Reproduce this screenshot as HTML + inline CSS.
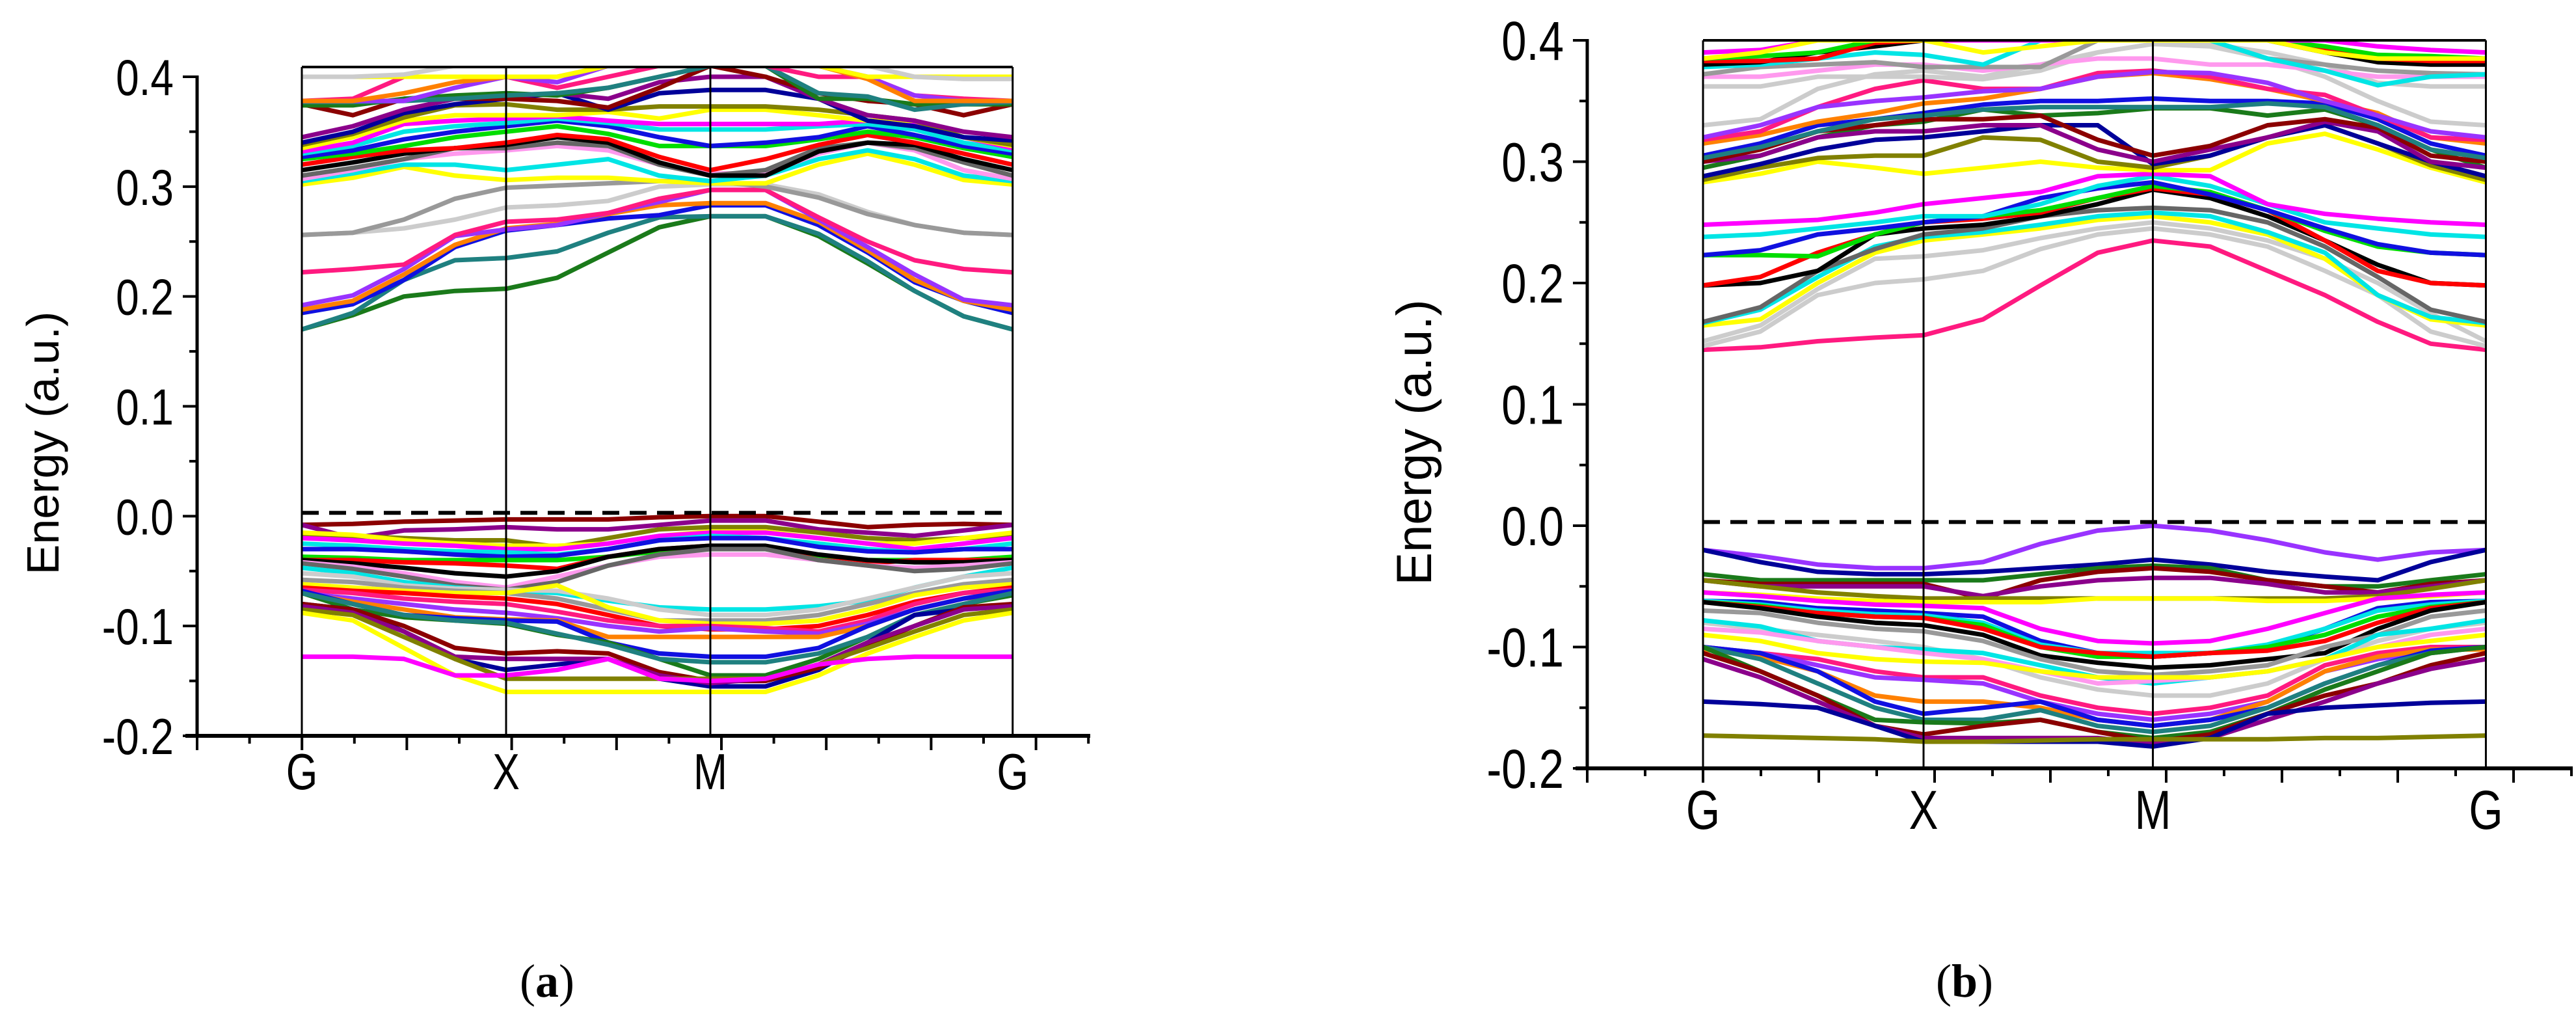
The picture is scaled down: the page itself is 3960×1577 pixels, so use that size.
<!DOCTYPE html>
<html><head><meta charset="utf-8"><style>
html,body{margin:0;padding:0;background:#fff;}
svg{display:block;}
text{font-family:"Liberation Sans",sans-serif;fill:#000;}
</style></head><body>
<svg id="fig" width="3960" height="1577" viewBox="0 0 3960 1577" xmlns="http://www.w3.org/2000/svg">
<defs>
<clipPath id="clipA"><rect x="464" y="103" width="1092" height="1028"/></clipPath>
<clipPath id="clipB"><rect x="2618" y="62" width="1203" height="1119"/></clipPath>
</defs>
<g id="panelA"></g>
<g id="panelB"></g>
<text x="841" y="1532" text-anchor="middle" style="font-family:'Liberation Serif',serif;font-size:72px">(<tspan font-weight="bold">a</tspan>)</text>
<text x="3020" y="1532" text-anchor="middle" style="font-family:'Liberation Serif',serif;font-size:72px">(<tspan font-weight="bold">b</tspan>)</text>
</svg>
<script>
const NS="http://www.w3.org/2000/svg";
const kLabels=["G","X","M","G"];
const yTickLabels=["-0.2","-0.1","0.0","0.1","0.2","0.3","0.4"];
const yTickValues=[-0.2,-0.1,0,0.1,0.2,0.3,0.4];
const fermiA=0.003, fermiB=0.003;
const kA=[0,.25,.5,.75,1,1.25,1.5,1.75,2,2.27,2.53,2.77,3.0,3.24,3.48];
const kB=[0,.26,.52,.78,1,1.27,1.53,1.79,2.04,2.3,2.56,2.82,3.06,3.3,3.55];
const symKA=[0,1,2,3.48];
const symKB=[0,1,2.04,3.55];
const C={dg:"#1a7a1a",teal:"#1f8080",blue:"#1010e0",orange:"#ff8000",violet:"#9933ff",pink:"#ff1a80",lgray:"#cccccc",gray:"#999999",yellow:"#ffff00",cyan:"#00e5e5",plum:"#ff99ee",dgray:"#666666",black:"#000000",red:"#ff0000",green:"#00dd00",mag:"#ff00ff",olive:"#808000",navy:"#000099",purple:"#8b008b",dred:"#8b0000"};
const colorsA=["dg","teal","blue","orange","violet","pink","lgray","gray","yellow","cyan","plum","dgray","black","red","green","blue","cyan","mag","yellow","olive","navy","purple","dred","dg","teal","pink","violet","orange","yellow","lgray",
"dred","purple","olive","yellow","mag","cyan","blue","green","red","black","plum","dgray","cyan","lgray","gray","yellow","red","pink","violet","orange","blue","dg","teal","navy","dred","purple","olive","yellow","mag"];
const bandsA=[
[.17,.183,.2,.205,.207,.217,.24,.263,.273,.273,.255,.23,.205,.182,.17],
[.17,.185,.215,.233,.235,.241,.258,.272,.273,.273,.257,.232,.205,.182,.17],
[.185,.193,.215,.245,.26,.265,.271,.274,.283,.283,.265,.24,.213,.196,.185],
[.188,.196,.22,.247,.262,.266,.275,.283,.285,.285,.268,.242,.215,.196,.188],
[.192,.201,.225,.255,.261,.265,.276,.286,.297,.297,.27,.245,.22,.197,.192],
[.222,.225,.229,.256,.268,.27,.276,.289,.297,.297,.272,.25,.233,.225,.222],
[.256,.258,.262,.27,.281,.283,.287,.3,.302,.302,.293,.277,.265,.258,.256],
[.256,.258,.27,.289,.299,.301,.303,.305,.305,.3,.29,.275,.265,.258,.256],
[.302,.308,.318,.31,.306,.308,.308,.305,.303,.303,.32,.33,.32,.306,.302],
[.305,.312,.32,.32,.315,.32,.325,.31,.305,.31,.325,.333,.325,.31,.305],
[.307,.315,.325,.33,.333,.337,.333,.32,.312,.312,.33,.34,.333,.315,.307],
[.31,.317,.325,.335,.335,.34,.337,.32,.31,.315,.335,.34,.335,.322,.31],
[.315,.322,.33,.335,.338,.345,.34,.322,.31,.31,.332,.34,.338,.325,.315],
[.32,.327,.333,.335,.34,.347,.343,.327,.315,.325,.338,.347,.34,.33,.32],
[.325,.33,.337,.345,.35,.355,.348,.337,.337,.337,.343,.35,.345,.335,.327],
[.327,.333,.343,.35,.355,.36,.355,.345,.337,.34,.345,.355,.347,.337,.33],
[.33,.337,.35,.355,.358,.362,.358,.352,.352,.352,.355,.357,.352,.34,.333],
[.332,.34,.357,.36,.362,.364,.36,.357,.357,.357,.357,.36,.357,.345,.335],
[.335,.345,.36,.365,.365,.365,.368,.362,.37,.37,.365,.36,.36,.345,.337],
[.338,.348,.363,.374,.375,.37,.37,.373,.373,.373,.37,.365,.36,.345,.338],
[.34,.35,.367,.375,.38,.385,.37,.385,.388,.388,.38,.36,.355,.345,.342],
[.345,.355,.37,.38,.382,.385,.38,.395,.4,.4,.38,.365,.36,.35,.345],
[.375,.365,.38,.38,.38,.378,.372,.39,.41,.4,.385,.378,.375,.365,.375],
[.374,.374,.38,.383,.385,.383,.39,.4,.41,.41,.38,.38,.375,.375,.375],
[.377,.377,.378,.38,.383,.385,.39,.4,.41,.41,.385,.382,.37,.375,.377],
[.378,.38,.4,.4,.4,.39,.4,.41,.41,.41,.4,.4,.383,.38,.378],
[.378,.378,.378,.39,.4,.395,.41,.41,.41,.41,.41,.4,.383,.378,.378],
[.378,.378,.385,.395,.4,.4,.41,.41,.41,.41,.41,.398,.378,.378,.378],
[.4,.4,.4,.4,.4,.4,.41,.41,.41,.41,.41,.4,.4,.4,.4],
[.4,.4,.402,.41,.41,.41,.41,.41,.41,.41,.41,.41,.4,.398,.398],
[-.008,-.007,-.005,-.004,-.003,-.003,-.003,-.001,0,0,-.005,-.01,-.008,-.007,-.008],
[-.008,-.02,-.013,-.012,-.01,-.012,-.012,-.008,-.004,-.004,-.012,-.015,-.018,-.013,-.008],
[-.018,-.018,-.02,-.022,-.022,-.028,-.02,-.012,-.01,-.01,-.015,-.02,-.022,-.02,-.018],
[-.015,-.017,-.022,-.025,-.027,-.027,-.025,-.018,-.014,-.014,-.02,-.025,-.025,-.02,-.015],
[-.02,-.022,-.025,-.027,-.03,-.03,-.025,-.018,-.015,-.015,-.02,-.025,-.03,-.025,-.02],
[-.025,-.027,-.03,-.032,-.033,-.035,-.03,-.022,-.018,-.02,-.025,-.03,-.033,-.03,-.025],
[-.03,-.03,-.032,-.035,-.037,-.036,-.03,-.022,-.02,-.02,-.028,-.032,-.033,-.03,-.03],
[-.037,-.038,-.04,-.04,-.04,-.04,-.037,-.032,-.03,-.03,-.038,-.04,-.04,-.04,-.037],
[-.04,-.04,-.042,-.043,-.045,-.048,-.037,-.03,-.027,-.028,-.04,-.043,-.04,-.04,-.04],
[-.04,-.043,-.047,-.052,-.055,-.05,-.037,-.03,-.027,-.027,-.035,-.04,-.042,-.042,-.04],
[-.042,-.046,-.052,-.06,-.065,-.055,-.045,-.037,-.035,-.035,-.04,-.045,-.047,-.045,-.042],
[-.043,-.048,-.055,-.063,-.067,-.06,-.045,-.035,-.03,-.03,-.04,-.045,-.05,-.048,-.043],
[-.047,-.052,-.06,-.065,-.068,-.07,-.077,-.083,-.085,-.085,-.082,-.077,-.065,-.055,-.047],
[-.052,-.055,-.063,-.066,-.067,-.068,-.075,-.085,-.09,-.09,-.085,-.075,-.065,-.055,-.052],
[-.058,-.06,-.065,-.068,-.07,-.075,-.085,-.095,-.095,-.095,-.09,-.08,-.07,-.062,-.058],
[-.062,-.065,-.068,-.07,-.07,-.063,-.083,-.095,-.098,-.098,-.095,-.085,-.072,-.065,-.062],
[-.065,-.068,-.07,-.073,-.075,-.08,-.09,-.1,-.103,-.103,-.1,-.09,-.078,-.07,-.065],
[-.067,-.07,-.075,-.078,-.08,-.087,-.095,-.1,-.1,-.102,-.105,-.095,-.08,-.07,-.067],
[-.07,-.075,-.08,-.085,-.088,-.093,-.1,-.105,-.102,-.105,-.107,-.098,-.085,-.075,-.07],
[-.07,-.078,-.085,-.092,-.094,-.095,-.11,-.11,-.11,-.11,-.11,-.1,-.085,-.075,-.07],
[-.068,-.08,-.09,-.093,-.095,-.096,-.115,-.125,-.128,-.128,-.12,-.1,-.085,-.075,-.068],
[-.07,-.085,-.092,-.095,-.098,-.108,-.115,-.13,-.145,-.145,-.13,-.11,-.09,-.08,-.072],
[-.07,-.08,-.09,-.095,-.097,-.107,-.117,-.13,-.133,-.133,-.125,-.11,-.09,-.08,-.07],
[-.08,-.085,-.105,-.13,-.14,-.135,-.13,-.148,-.155,-.155,-.14,-.115,-.09,-.085,-.08],
[-.08,-.085,-.1,-.12,-.125,-.123,-.125,-.142,-.15,-.15,-.138,-.118,-.1,-.083,-.08],
[-.082,-.088,-.105,-.128,-.13,-.13,-.13,-.145,-.152,-.148,-.135,-.115,-.1,-.085,-.082],
[-.085,-.09,-.11,-.13,-.148,-.148,-.148,-.148,-.148,-.148,-.135,-.12,-.105,-.09,-.085],
[-.088,-.095,-.12,-.145,-.16,-.16,-.16,-.16,-.16,-.16,-.145,-.125,-.11,-.095,-.088],
[-.128,-.128,-.13,-.145,-.145,-.14,-.13,-.148,-.15,-.148,-.135,-.13,-.128,-.128,-.128]
];
const colorsB=["pink","lgray","lgray","yellow","cyan","dgray","black","red","green","blue","cyan","mag","yellow","olive","navy","dg","purple","dred","blue","teal","orange","pink","violet","lgray","lgray","plum","gray","cyan","black","red","green","mag","yellow",
"violet","navy","dg","dred","purple","olive","yellow","mag","blue","cyan","green","red","black","gray","lgray","cyan","plum","yellow","pink","violet","orange","blue","teal","dg","dred","purple","navy","olive"];
const bandsB=[
[.145,.147,.152,.155,.157,.17,.198,.225,.235,.23,.21,.19,.168,.15,.145],
[.148,.16,.19,.2,.203,.21,.228,.24,.245,.24,.23,.21,.19,.16,.148],
[.152,.165,.195,.22,.222,.227,.237,.245,.25,.245,.235,.22,.2,.175,.152],
[.165,.17,.2,.225,.235,.24,.245,.252,.255,.25,.24,.22,.19,.17,.165],
[.167,.178,.205,.23,.238,.242,.248,.255,.258,.255,.242,.225,.19,.172,.167],
[.168,.18,.21,.228,.24,.245,.255,.26,.262,.26,.25,.23,.205,.178,.168],
[.198,.2,.21,.24,.245,.248,.255,.265,.277,.27,.255,.235,.215,.2,.198],
[.198,.205,.225,.24,.25,.253,.258,.27,.278,.273,.26,.235,.21,.2,.198],
[.223,.223,.222,.24,.25,.255,.26,.27,.28,.275,.26,.243,.23,.225,.223],
[.223,.227,.24,.245,.25,.255,.27,.278,.283,.273,.26,.245,.232,.225,.223],
[.238,.24,.245,.25,.255,.255,.265,.28,.288,.28,.265,.25,.245,.24,.238],
[.248,.25,.252,.258,.265,.27,.275,.288,.29,.288,.265,.257,.253,.25,.248],
[.283,.29,.3,.295,.29,.295,.3,.295,.293,.293,.315,.323,.31,.295,.283],
[.285,.295,.303,.305,.305,.32,.318,.3,.295,.305,.32,.33,.315,.297,.285],
[.288,.298,.31,.318,.32,.325,.33,.33,.298,.305,.32,.33,.315,.3,.288],
[.295,.305,.32,.33,.333,.343,.338,.34,.344,.344,.338,.343,.33,.31,.295],
[.3,.305,.32,.325,.325,.33,.33,.31,.3,.31,.32,.333,.325,.3,.295],
[.3,.31,.325,.33,.335,.335,.338,.318,.305,.313,.33,.335,.328,.305,.3],
[.305,.315,.33,.335,.34,.347,.35,.35,.352,.35,.35,.348,.335,.315,.305],
[.303,.312,.325,.335,.338,.343,.345,.345,.345,.345,.348,.345,.33,.31,.303],
[.315,.322,.333,.34,.348,.352,.36,.37,.373,.368,.36,.35,.34,.32,.315],
[.318,.325,.345,.36,.367,.36,.36,.373,.375,.37,.36,.355,.338,.32,.318],
[.32,.33,.345,.35,.353,.358,.36,.37,.374,.373,.365,.35,.338,.325,.32],
[.33,.335,.36,.372,.375,.37,.38,.39,.397,.395,.385,.37,.35,.333,.33],
[.362,.362,.37,.37,.37,.368,.375,.39,.397,.397,.39,.38,.365,.362,.362],
[.37,.37,.375,.38,.38,.375,.38,.385,.385,.38,.38,.375,.37,.37,.37],
[.372,.378,.38,.382,.378,.378,.378,.4,.4,.4,.385,.38,.375,.373,.372],
[.378,.38,.385,.39,.388,.38,.4,.4,.4,.4,.385,.375,.363,.37,.372],
[.38,.382,.39,.395,.4,.4,.4,.4,.4,.4,.4,.39,.382,.38,.38],
[.383,.383,.385,.398,.4,.4,.4,.4,.4,.4,.4,.393,.385,.383,.383],
[.385,.387,.39,.4,.4,.4,.4,.4,.4,.4,.4,.395,.388,.387,.385],
[.39,.392,.4,.4,.4,.4,.4,.4,.4,.4,.4,.4,.395,.392,.39],
[.385,.39,.4,.4,.4,.39,.395,.4,.4,.4,.4,.39,.385,.385,.385],
[-.02,-.025,-.032,-.035,-.035,-.03,-.015,-.004,0,-.004,-.012,-.022,-.028,-.022,-.02],
[-.02,-.03,-.038,-.04,-.04,-.038,-.035,-.032,-.028,-.032,-.038,-.042,-.045,-.03,-.02],
[-.04,-.045,-.045,-.045,-.045,-.045,-.04,-.035,-.033,-.035,-.045,-.05,-.05,-.045,-.04],
[-.045,-.048,-.048,-.048,-.048,-.06,-.045,-.038,-.035,-.038,-.045,-.05,-.055,-.048,-.045],
[-.045,-.05,-.05,-.05,-.05,-.058,-.05,-.045,-.043,-.043,-.048,-.055,-.055,-.05,-.045],
[-.045,-.05,-.055,-.058,-.06,-.06,-.06,-.06,-.06,-.06,-.06,-.06,-.058,-.052,-.045],
[-.055,-.057,-.06,-.062,-.063,-.063,-.063,-.06,-.06,-.06,-.062,-.062,-.06,-.058,-.055],
[-.055,-.058,-.062,-.065,-.066,-.068,-.085,-.095,-.097,-.095,-.085,-.072,-.06,-.057,-.055],
[-.062,-.063,-.068,-.07,-.072,-.075,-.095,-.105,-.108,-.105,-.1,-.085,-.068,-.063,-.062],
[-.062,-.065,-.07,-.073,-.074,-.08,-.098,-.105,-.105,-.105,-.098,-.085,-.07,-.065,-.062],
[-.063,-.066,-.072,-.075,-.076,-.082,-.1,-.108,-.108,-.105,-.1,-.09,-.075,-.067,-.063],
[-.063,-.067,-.072,-.075,-.076,-.085,-.1,-.105,-.108,-.105,-.103,-.095,-.08,-.068,-.063],
[-.063,-.068,-.075,-.08,-.082,-.09,-.107,-.113,-.117,-.115,-.11,-.105,-.085,-.07,-.063],
[-.07,-.072,-.08,-.085,-.087,-.095,-.11,-.12,-.123,-.12,-.115,-.1,-.09,-.075,-.07],
[-.08,-.085,-.09,-.095,-.1,-.11,-.125,-.135,-.14,-.14,-.13,-.11,-.095,-.085,-.08],
[-.078,-.083,-.095,-.1,-.102,-.105,-.115,-.125,-.13,-.125,-.12,-.11,-.09,-.085,-.078],
[-.085,-.088,-.095,-.1,-.105,-.11,-.12,-.13,-.128,-.125,-.12,-.11,-.1,-.09,-.085],
[-.09,-.095,-.105,-.11,-.112,-.113,-.12,-.125,-.125,-.125,-.12,-.11,-.1,-.095,-.09],
[-.1,-.105,-.11,-.12,-.125,-.125,-.14,-.15,-.155,-.15,-.14,-.115,-.105,-.1,-.1],
[-.1,-.105,-.115,-.125,-.127,-.13,-.145,-.155,-.16,-.155,-.145,-.12,-.11,-.103,-.1],
[-.102,-.108,-.12,-.14,-.145,-.145,-.15,-.16,-.165,-.16,-.145,-.12,-.108,-.102,-.102],
[-.1,-.105,-.12,-.145,-.155,-.15,-.145,-.16,-.165,-.16,-.15,-.13,-.115,-.103,-.1],
[-.1,-.11,-.13,-.15,-.16,-.16,-.152,-.165,-.17,-.165,-.15,-.13,-.115,-.105,-.1],
[-.1,-.12,-.14,-.16,-.162,-.163,-.16,-.17,-.175,-.17,-.155,-.135,-.12,-.105,-.1],
[-.105,-.12,-.14,-.165,-.172,-.165,-.16,-.17,-.178,-.172,-.155,-.14,-.13,-.115,-.105],
[-.11,-.125,-.145,-.165,-.175,-.175,-.175,-.175,-.18,-.175,-.16,-.145,-.13,-.118,-.11],
[-.145,-.147,-.15,-.165,-.178,-.178,-.178,-.178,-.182,-.175,-.155,-.15,-.148,-.146,-.145],
[-.173,-.174,-.175,-.176,-.178,-.178,-.177,-.176,-.176,-.176,-.176,-.175,-.175,-.174,-.173]
];

function mk(tag,attrs,parent){const e=document.createElementNS(NS,tag);for(const k in attrs)e.setAttribute(k,attrs[k]);parent.appendChild(e);return e;}

function drawPanel(g,cfg,kpts,bands,colors,symK,fermi,clipId){
  const yS=v=>cfg.y0+(v-(-0.2))/0.6*(cfg.y4-cfg.y0);
  const xS=k=>cfg.gx+k*cfg.unit;
  // bands
  const bg=mk("g",{"clip-path":"url(#"+clipId+")"},g);
  
  
  bands.forEach((b,i)=>{
    const pts=b.map((v,j)=>xS(kpts[j]).toFixed(1)+","+yS(v).toFixed(1)).join(" ");
    const pl=mk("polyline",{points:pts,fill:"none",stroke:C[colors[i%colors.length]],"stroke-width":7,"stroke-linejoin":"round"},bg);
    
    
  });
  // fermi level
  const fl=mk("line",{x1:xS(0),x2:xS(symK[3]),y1:yS(fermi),y2:yS(fermi),stroke:"#000","stroke-width":6,"stroke-dasharray":"26,16"},g);
  
  
  // symmetry lines
  symK.forEach((k,i)=>{
    const l=mk("line",{x1:xS(k),x2:xS(k),y1:cfg.top,y2:yS(-0.2),stroke:"#000","stroke-width":3},g);
    
    
    const t=mk("text",{x:0,y:0,"text-anchor":"middle",transform:`translate(${xS(k)},${cfg.labY}) scale(0.8,1)`,"font-size":cfg.fs},g);
    t.textContent=kLabels[i];
    
    
  });
  const tf=mk("line",{x1:xS(0),x2:xS(symK[3]),y1:cfg.top,y2:cfg.top,stroke:"#000","stroke-width":4},g);
  
  
  // y axis
  const ya=mk("line",{x1:cfg.ax,x2:cfg.ax,y1:yS(0.4)-2,y2:yS(-0.2)+2,stroke:"#000","stroke-width":5},g);
  
  
  for(let i=0;i<=12;i++){
    const v=-0.2+i*0.05;const y=yS(v);const maj=i%2===0;
    mk("line",{x1:cfg.ax-(maj?22:12),x2:cfg.ax,y1:y,y2:y,stroke:"#000","stroke-width":4},g);
  }
  yTickValues.forEach((v,i)=>{
    const t=mk("text",{x:0,y:0,"text-anchor":"end",transform:`translate(${cfg.ax-36},${yS(v)+cfg.fs*0.36}) scale(0.82,1)`,"font-size":cfg.fs},g);
    t.textContent=yTickLabels[i];
    
    
  });
  // x axis
  const xa=mk("line",{x1:cfg.ax-18,x2:cfg.axEnd,y1:yS(-0.2),y2:yS(-0.2),stroke:"#000","stroke-width":6},g);
  
  
  for(let i=0;;i++){
    const x=cfg.ax+i*cfg.tick;if(x>cfg.axEnd+2)break;const maj=i%2===0;
    mk("line",{x1:x,x2:x,y1:yS(-0.2),y2:yS(-0.2)+(maj?22:12),stroke:"#000","stroke-width":4},g);
  }
  const yl=mk("text",{x:0,y:0,"text-anchor":"middle",transform:`translate(${cfg.ylx},${cfg.yly}) rotate(-90)`,"font-size":cfg.ylfs},g);
  yl.textContent="Energy (a.u.)";
  
  
}
drawPanel(document.getElementById("panelA"),{y0:1131,y4:118,gx:464,unit:314,top:103,ax:303,axEnd:1676,tick:80.6,labY:1213,fs:78,ylx:90,yly:681,ylfs:70},kA,bandsA,colorsA,symKA,fermiA,"clipA");
drawPanel(document.getElementById("panelB"),{y0:1181,y4:62,gx:2618,unit:339,top:62,ax:2440,axEnd:3955,tick:89,labY:1274,fs:84,ylx:2200,yly:680,ylfs:76},kB,bandsB,colorsB,symKB,fermiB,"clipB");
</script>
</body></html>
